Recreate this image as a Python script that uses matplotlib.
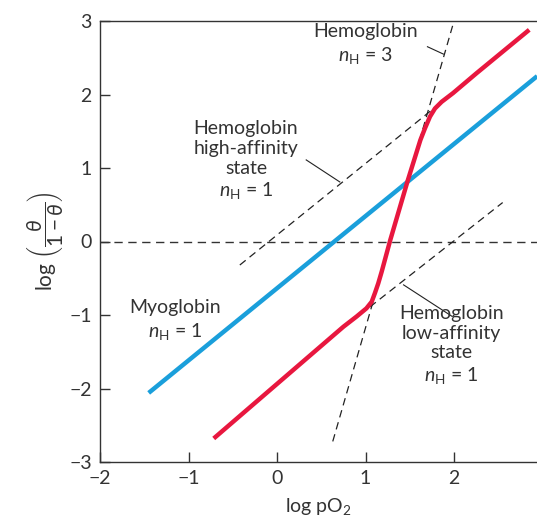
import numpy as np
import matplotlib.pyplot as plt

plt.rcParams['font.family'] = ['Lato', 'DejaVu Sans']
plt.rcParams['mathtext.fontset'] = 'custom'
plt.rcParams['mathtext.rm'] = 'Lato'
plt.rcParams['mathtext.it'] = 'Lato:italic'
plt.rcParams['text.color'] = '#333333'
plt.rcParams['axes.labelcolor'] = '#333333'
plt.rcParams['xtick.labelcolor'] = '#333333'
plt.rcParams['ytick.labelcolor'] = '#333333'

# myoglobin, slope ~1
myo_x = [-1.45, 2.94]
myo_y = [-2.06, 2.25]

# hemoglobin sigmoid
hb_x = [-0.715, 0.75, 0.90, 1.01, 1.07, 1.107, 1.144, 1.183, 1.28, 1.48, 1.62, 1.672,
        1.729, 1.785, 1.86, 1.99, 2.255, 2.85]
hb_y = [-2.68, -1.16, -1.02, -0.91, -0.82, -0.70, -0.57, -0.41, 0.02, 0.84, 1.38, 1.54,
        1.70, 1.81, 1.90, 2.02, 2.29, 2.88]

# dashed asymptotes
high_x = [-0.42, 1.77]
high_y = [-0.32, 1.81]
low_x = [1.05, 2.55]
low_y = [-0.89, 0.53]
steep_x = [0.63, 2.0]
steep_y = [-2.72, 3.0]

xticks = [-2, -1, 0, 1, 2]
yticks = [-3, -2, -1, 0, 1, 2, 3]

blue = '#1a9fdb'
red = '#e8173f'
dash = (0, (6, 4))

fig = plt.figure(figsize=(5.37, 5.24), dpi=100)
ax = fig.add_axes([100/537, 62/524, 437/537, 441/524])
ax.set_xlim(-2, -2 + 437/88.5)
ax.set_ylim(-3, 3)

ax.axhline(0, color='#333333', lw=1.0, ls=dash)
ax.plot(high_x, high_y, color='#222222', lw=0.9, ls=dash)
ax.plot(low_x, low_y, color='#222222', lw=0.9, ls=dash)
ax.plot(steep_x, steep_y, color='#222222', lw=0.9, ls=dash)

ax.plot(myo_x, myo_y, color=blue, lw=3.2, solid_capstyle='butt')
ax.plot(hb_x, hb_y, color=red, lw=3.2, solid_capstyle='butt', solid_joinstyle='round')

# leader lines
ax.plot([1.70, 1.88], [2.65, 2.55], color='#222222', lw=0.8)
ax.plot([0.33, 0.71], [1.11, 0.81], color='#222222', lw=0.8)
ax.plot([1.43, 1.98], [-0.59, -1.02], color='#222222', lw=0.8)

fs = 14
ax.text(1.0, 2.68, 'Hemoglobin\n$n_\\mathrm{H}$ = 3', ha='center', va='center', fontsize=fs, linespacing=1.3)
ax.text(-0.35, 1.1, 'Hemoglobin\nhigh-affinity\nstate\n$n_\\mathrm{H}$ = 1', ha='center', va='center', fontsize=fs, linespacing=1.2)
ax.text(-1.15, -1.07, 'Myoglobin\n$n_\\mathrm{H}$ = 1', ha='center', va='center', fontsize=fs, linespacing=1.3)
ax.text(1.97, -1.41, 'Hemoglobin\nlow-affinity\nstate\n$n_\\mathrm{H}$ = 1', ha='center', va='center', fontsize=fs, linespacing=1.2)

ax.spines['right'].set_visible(False)
for s in ax.spines.values():
    s.set_linewidth(1.0)
    s.set_color('#333333')
ax.set_xticks(xticks)
ax.set_yticks(yticks)
ax.set_xticklabels([str(t).replace('-', '\u2212') for t in xticks])
ax.set_yticklabels([str(t).replace('-', '\u2212') for t in yticks])
ax.tick_params(direction='in', length=7, width=1.0, color='#333333', labelsize=fs, pad=6)

ax.set_xlabel('log pO$_2$', fontsize=fs, labelpad=6)
ax.set_ylabel('log $\\left(\\dfrac{\\theta}{1-\\theta}\\right)$', fontsize=15, labelpad=2)

fig.savefig('out.png', dpi=100)
